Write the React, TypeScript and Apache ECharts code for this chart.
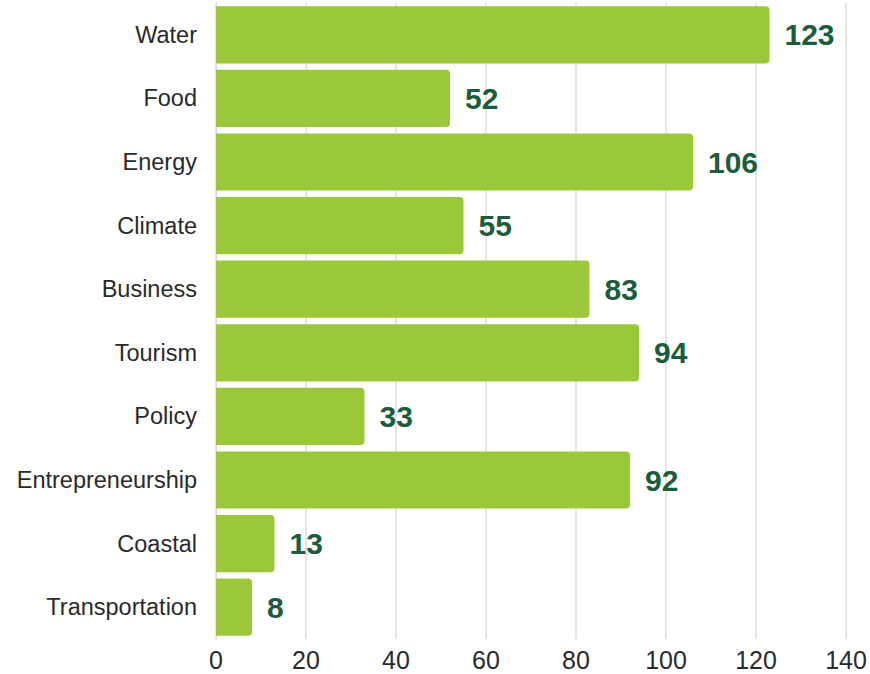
import React, { useEffect, useRef } from "react";
import * as echarts from "echarts";

const categories = [
  "Water",
  "Food",
  "Energy",
  "Climate",
  "Business",
  "Tourism",
  "Policy",
  "Entrepreneurship",
  "Coastal",
  "Transportation",
];
const values = [123, 52, 106, 55, 83, 94, 33, 92, 13, 8];
const xTicks = [0, 20, 40, 60, 80, 100, 120, 140];

export default function App() {
  const ref = useRef<HTMLDivElement>(null);
  useEffect(() => {
    if (!ref.current) return;
    const chart = echarts.init(ref.current, undefined, { renderer: "svg" });
    chart.setOption({
      animation: false,
      backgroundColor: "#ffffff",
      grid: {
        left: 216,
        right: 24,
        top: 3,
        bottom: 35,
        containLabel: false,
        outerBoundsMode: "none",
      },
      xAxis: {
        type: "value",
        min: xTicks[0],
        max: xTicks[xTicks.length - 1],
        interval: 20,
        axisLine: { show: false },
        axisTick: { show: false },
        splitLine: { show: true, lineStyle: { color: "#dcdcdc", width: 1.5 } },
        axisLabel: {
          color: "#2a2a2a",
          fontSize: 25,
          fontFamily: "Liberation Sans, Arial, sans-serif",
          margin: 8,
        },
      },
      yAxis: {
        type: "category",
        data: categories,
        inverse: true,
        axisLine: { show: true, lineStyle: { color: "#d8d8d8", width: 1 } },
        axisTick: { show: false },
        axisLabel: {
          color: "#2a2a2a",
          fontSize: 23.5,
          fontFamily: "Liberation Sans, Arial, sans-serif",
          margin: 19,
        },
      },
      series: [
        {
          type: "bar",
          data: values,
          barCategoryGap: "10%",
          itemStyle: { color: "#9bc83b", borderRadius: [0, 4, 4, 0] },
          label: {
            show: true,
            position: "right",
            distance: 15,
            color: "#1c5c3c",
            fontSize: 30,
            fontWeight: "bold",
            fontFamily: "Liberation Sans, Arial, sans-serif",
          },
        },
      ],
    });
    return () => chart.dispose();
  }, []);
  return (
    <div
      ref={ref}
      style={{ position: "absolute", left: 0, top: 0, width: 870, height: 674 }}
    />
  );
}
